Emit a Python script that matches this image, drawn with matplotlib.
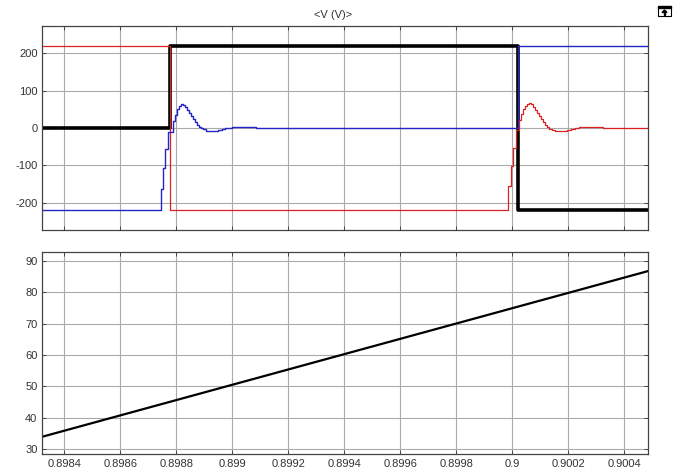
import numpy as np
import matplotlib
matplotlib.use("Agg")
import matplotlib.pyplot as plt
from matplotlib.patches import Rectangle, Polygon

plt.rcParams['font.family'] = ['Liberation Sans', 'DejaVu Sans']
plt.rcParams['axes.unicode_minus'] = False

# time axis
x_labels = ['0.8984', '0.8986', '0.8988', '0.899', '0.8992', '0.8994',
            '0.8996', '0.8998', '0.9', '0.9002', '0.9004']
x_ticks = [float(s) for s in x_labels]
x_lim = (0.898321, 0.900484)
t_start, t_end = 0.89830, 0.90050

# switching instants and levels
sw1 = 0.898778
sw2 = 0.900020
v_dc = 220

# blue transient around sw1 (offset in microseconds, value in V)
blue_dt_us = [-34, -27, -18, -7, 9, 16, 23, 30, 39, 46, 54, 61, 68, 75, 82,
              89, 96, 104, 111, 118, 129, 146, 161, 171, 186, 196, 207, 221,
              250, 279, 307, 329]
blue_tr = [-162, -107, -56, -10, 18, 35, 50, 60, 65, 61, 55, 48, 40, 32, 24,
           16, 9, 4, 0, -4, -7, -9, -8, -6, -3, -1, 1, 2, 3, 2, 1, 0]

# red transient around sw2
red_dt_us = [-34, -25, -16, -6, 5, 13, 20, 27, 34, 41, 48, 55, 62, 70, 77,
             84, 91, 98, 105, 112, 121, 132, 146, 161, 175, 189, 204, 218,
             239, 268, 304, 339]
red_tr = [-156, -102, -53, -6, 22, 38, 50, 59, 64, 66, 63, 57, 49, 41, 32,
          23, 15, 8, 2, -2, -5, -8, -9, -8, -6, -3, 0, 2, 3, 2.5, 1, 0]

# lower plot ramp
ramp_t = [0.898321, 0.900484]
ramp_v = [34.0, 86.7]

top_yticks = [-200, -100, 0, 100, 200]
bot_yticks = [30, 40, 50, 60, 70, 80, 90]

blue_t = [t_start] + [sw1 + d * 1e-6 for d in blue_dt_us] + [sw2, t_end]
blue_v = [-v_dc] + blue_tr + [v_dc, v_dc]
red_t = [t_start, sw1] + [sw2 + d * 1e-6 for d in red_dt_us] + [t_end]
red_v = [v_dc, -v_dc] + red_tr + [red_tr[-1]]
black_t = [t_start, sw1, sw2, t_end]
black_v = [0, v_dc, -v_dc, -v_dc]

W, H = 681, 474
fig = plt.figure(figsize=(W / 100, H / 100), dpi=100)


def px_axes(x0, y0, x1, y1):
    return fig.add_axes([x0 / W, 1 - y1 / H, (x1 - x0) / W, (y1 - y0) / H])


def style(ax):
    ax.grid(True, color='#aaaaaa', linewidth=0.8)
    ax.set_axisbelow(True)
    ax.tick_params(direction='in', length=3, width=0.7, top=True, right=True,
                   labelsize=8, labelcolor='#333333', pad=3.5, color='#444444')
    for s in ax.spines.values():
        s.set_color('#444444')
        s.set_linewidth(0.9)
    ax.set_xticks(x_ticks)
    ax.set_xlim(*x_lim)


ax1 = px_axes(42.3, 26, 647.7, 230)
style(ax1)
ax1.step(black_t, black_v, where='post', color='black', lw=2.6)
ax1.step(red_t, red_v, where='post', color='#dd2020', lw=0.9)
ax1.step(blue_t, blue_v, where='post', color='#2424c4', lw=1.0)
ax1.set_ylim(-273, 273)
ax1.set_yticks(top_yticks)
ax1.set_yticklabels([str(v) for v in top_yticks])
ax1.set_xticklabels([])

ax2 = px_axes(42.3, 251.7, 647.7, 454)
style(ax2)
ax2.plot(ramp_t, ramp_v, color='black', lw=1.6)
ax2.set_ylim(28.5, 92.9)
ax2.set_yticks(bot_yticks)
ax2.set_xticklabels(x_labels)

fig.text(333 / W, 1 - 15 / H, '<V (V)>', ha='center', va='center',
         fontsize=8, color='#333333')

# small undock icon at top right
fig.patches.append(Rectangle((658 / W, 1 - 15.5 / H), 13 / W, 9 / H,
                             transform=fig.transFigure, fill=False,
                             edgecolor='black', linewidth=0.8))
fig.patches.append(Rectangle((658 / W, 1 - 8 / H), 13 / W, 1.5 / H,
                             transform=fig.transFigure, color='black'))
fig.patches.append(Polygon([(662 / W, 1 - 12.5 / H), (667 / W, 1 - 12.5 / H),
                            (664.5 / W, 1 - 10 / H)],
                           transform=fig.transFigure, color='black'))
fig.patches.append(Rectangle((663.8 / W, 1 - 14.5 / H), 1.4 / W, 2 / H,
                             transform=fig.transFigure, color='black'))

fig.savefig('out.png', dpi=100)
